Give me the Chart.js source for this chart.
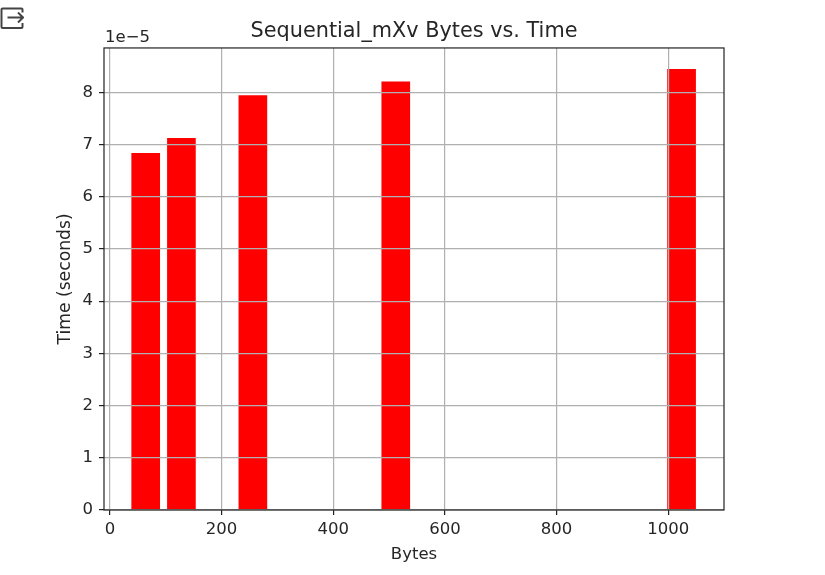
<!DOCTYPE html>
<html>
<head>
<meta charset="utf-8">
<script src="https://cdn.jsdelivr.net/npm/chart.js@4"></script>
<style>
  html, body { margin: 0; padding: 0; background: #fff; }
  #wrap { position: relative; width: 825px; height: 575px; }
  #icon { position: absolute; left: 0; top: 6px; }
  canvas { display: block; }
</style>
</head>
<body>
<div id="wrap">
  <svg id="icon" width="24" height="24" viewBox="0 0 24 24" fill="none" stroke="#444" stroke-width="2">
    <path d="M22.5 6.5V3.5a1 1 0 0 0-1-1H2.5a1 1 0 0 0-1 1v17.500a1 1 0 0 0 1 1h19a1 1 0 0 0 1-1V17"/>
    <path d="M7.500 11.500h15M18 6.500l5 5-5 5"/>
  </svg>
  <canvas id="barChart" width="825" height="575"></canvas>
</div>
<script>
// values, y is in units of 1e-5 seconds
var bytes = [64, 128, 256, 512, 1024];
var times = [6.83, 7.12, 7.94, 8.2, 8.44];
var xTicks = [0, 200, 400, 600, 800, 1000];
var yTicks = [0, 1, 2, 3, 4, 5, 6, 7, 8];

var fontName = '"DejaVu Sans"';
var textColor = '#262626';

// four sided frame and the offset text above the y axis
var framePlugin = {
    id: 'frame',
    afterLayout: function (chart) {
        // title is centred over the axes box, not over the whole canvas
        var a = chart.chartArea;
        var t = chart.titleBlock;
        t.left = a.left + a.right - t.right;
    },
    afterDraw: function (chart) {
        var ctx = chart.ctx;
        var a = chart.chartArea;
        ctx.save();
        ctx.strokeStyle = '#222';
        ctx.lineWidth = 1.2;
        ctx.strokeRect(a.left, a.top, a.right - a.left, a.bottom - a.top);
        ctx.fillStyle = textColor;
        ctx.font = '16.5px ' + fontName;
        ctx.textAlign = 'left';
        ctx.textBaseline = 'bottom';
        ctx.fillText('1e\u22125', a.left + 1, a.top - 2);
        ctx.restore();
    }
};

new Chart(document.getElementById('barChart').getContext('2d'), {
    type: 'bar',
    data: {
        labels: bytes,
        datasets: [{
            label: 'Time',
            data: bytes.map(function (b, i) { return { x: b, y: times[i] }; }),
            backgroundColor: '#ff0000',
            barThickness: 28
        }]
    },
    options: {
        responsive: false,
        animation: false,
        layout: { padding: { left: 55, top: 0, right: 101, bottom: 10 } },
        plugins: {
            legend: { display: false },
            tooltip: { enabled: false },
            title: {
                display: true,
                text: 'Sequential_mXv Bytes vs. Time',
                color: textColor,
                font: { family: fontName, size: 20.8, weight: 'normal' },
                padding: { top: 19, bottom: 4 }
            }
        },
        scales: {
            x: {
                type: 'linear',
                offset: false,
                min: -10.7,
                max: 1100,
                afterFit: function (s) { s.height = 55; },
                afterBuildTicks: function (s) { s.ticks = xTicks.map(function (v) { return { value: v }; }); },
                grid: { offset: false, color: '#b0b0b0', lineWidth: 1.2, tickColor: '#222', tickLength: 5, z: 1 },
                border: { display: false },
                ticks: {
                    color: textColor,
                    font: { family: fontName, size: 16.5 },
                    maxRotation: 0,
                    padding: 5,
                    callback: function (v) { return String(v); }
                },
                title: { display: true, text: 'Bytes', color: textColor, font: { family: fontName, size: 16.5 }, padding: { top: 2, bottom: 0 } }
            },
            y: {
                min: 0,
                max: 8.85,
                afterFit: function (s) { s.width = 49; },
                afterBuildTicks: function (s) { s.ticks = yTicks.map(function (v) { return { value: v }; }); },
                grid: { color: '#b0b0b0', lineWidth: 1.2, tickColor: '#222', tickLength: 5, z: 1 },
                border: { display: false },
                ticks: { color: textColor, font: { family: fontName, size: 16.5 }, padding: 6 },
                title: { display: true, text: 'Time (seconds)', color: textColor, font: { family: fontName, size: 17.2 }, padding: { top: 0, bottom: 0 } }
            }
        }
    },
    plugins: [framePlugin]
});
</script>
</body>
</html>
